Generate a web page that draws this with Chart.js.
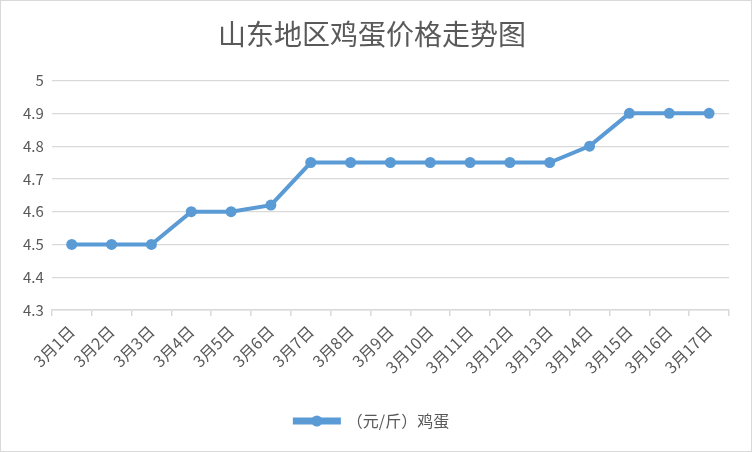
<!DOCTYPE html>
<html>
<head>
<meta charset="utf-8">
<script src="https://cdn.jsdelivr.net/npm/chart.js@4.4.0/dist/chart.umd.min.js"></script>
<style>
  body { margin: 0; background: #fff; }
  #wrap { width: 752px; height: 452px; box-sizing: border-box; border: 1px solid #d9d9d9; }
</style>
</head>
<body>
<div id="wrap"><canvas id="eggChart" width="750" height="450"></canvas></div>
<script>
var days = ["3月1日", "3月2日", "3月3日", "3月4日", "3月5日", "3月6日", "3月7日", "3月8日", "3月9日",
            "3月10日", "3月11日", "3月12日", "3月13日", "3月14日", "3月15日", "3月16日", "3月17日"];
var prices = [4.5, 4.5, 4.5, 4.6, 4.6, 4.62, 4.75, 4.75, 4.75, 4.75, 4.75, 4.75, 4.75, 4.8, 4.9, 4.9, 4.9];
var seriesName = "（元/斤）鸡蛋";
var lineColor = "#5b9bd5";

var font = '"Noto Sans CJK SC", sans-serif';
Chart.defaults.font.family = font;
Chart.defaults.color = "#595959";

// legend: draw a dot on top of the line sample
var legendDot = {
  id: "legendDot",
  afterDraw: function (chart) {
    var lg = chart.legend;
    if (!lg || !lg.legendHitBoxes) return;
    var ctx = chart.ctx;
    lg.legendHitBoxes.forEach(function (b) {
      var bw = lg.options.labels.boxWidth;
      ctx.save();
      ctx.fillStyle = lineColor;
      ctx.beginPath();
      ctx.arc(b.left + bw / 2, b.top + b.height / 2, 5.5, 0, Math.PI * 2);
      ctx.fill();
      ctx.restore();
    });
  }
};

new Chart("eggChart", {
  type: "line",
  data: {
    labels: days,
    datasets: [{
      label: seriesName,
      data: prices,
      borderColor: lineColor,
      backgroundColor: lineColor,
      borderWidth: 4,
      pointRadius: 5.5,
      pointBackgroundColor: lineColor,
      pointBorderWidth: 0,
      tension: 0
    }]
  },
  options: {
    responsive: false,
    animation: false,
    layout: { padding: { left: 14, right: 22, top: 6, bottom: 12 } },
    plugins: {
      title: {
        display: true,
        text: "山东地区鸡蛋价格走势图",
        font: { size: 28, weight: "normal" },
        color: "#595959",
        padding: { top: 11, bottom: 29 }
      },
      legend: {
        position: "bottom",
        labels: {
          boxWidth: 44,
          boxHeight: 3,
          font: { size: 16 },
          color: "#595959",
          padding: 30
        }
      },
      tooltip: { enabled: false }
    },
    scales: {
      x: {
        offset: true,
        grid: { offset: true, drawOnChartArea: false, color: "#d9d9d9", tickLength: 6, lineWidth: 1.5 },
        border: { color: "#d9d9d9", width: 1.5 },
        ticks: { minRotation: 45, maxRotation: 45, font: { size: 16 }, color: "#595959", autoSkip: false, padding: 6 }
      },
      y: {
        min: 4.3,
        max: 5,
        ticks: {
          stepSize: 0.1,
          font: { size: 15 },
          color: "#595959",
          padding: 8,
          callback: function (v) { return Math.round(v * 10) / 10; }
        },
        grid: { color: "#d9d9d9", drawTicks: false, lineWidth: 1.2 },
        border: { display: false }
      }
    }
  },
  plugins: [legendDot]
});
</script>
</body>
</html>
